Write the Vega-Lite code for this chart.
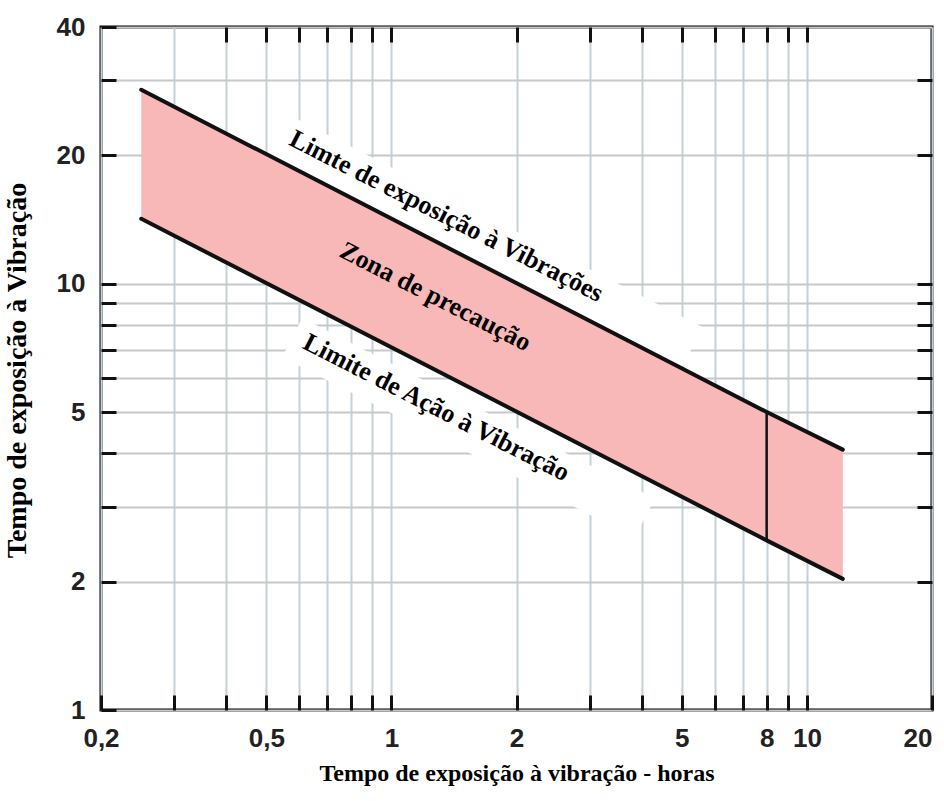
{
  "$schema": "https://vega.github.io/schema/vega-lite/v6.json",
  "width": 831,
  "height": 683,
  "autosize": "none",
  "padding": {"left": 101, "top": 27, "right": 12, "bottom": 91},
  "background": "white",
  "config": {
    "view": {"stroke": "#000", "strokeWidth": 3},
    "axis": {
      "domain": false,
      "ticks": true,
      "tickColor": "#111",
      "tickWidth": 3,
      "tickSize": -15,
      "gridWidth": 2,
      "labelFont": "Liberation Sans Narrow, Liberation Sans",
      "labelFontWeight": "bold",
      "labelFontSize": 26,
      "labelColor": "#222",
      "titleFont": "Liberation Serif",
      "titleFontWeight": "bold",
      "titleColor": "#000",
      "labelOverlap": false,
      "labelFlush": false
    }
  },
  "datasets": {
    "limites": [
      {"horas": 0.25, "lim_exposicao": 28.5, "lim_acao": 14.2},
      {"horas": 8, "lim_exposicao": 5, "lim_acao": 2.5},
      {"horas": 12.2, "lim_exposicao": 4.08, "lim_acao": 2.03}
    ],
    "caixas": [
      {"caixa": "exposicao", "horas": 0.54, "valor": 22.3},
      {"caixa": "exposicao", "horas": 5.31, "valor": 7.11},
      {"caixa": "acao", "horas": 0.577, "valor": 7.47},
      {"caixa": "acao", "horas": 4.07, "valor": 2.82}
    ],
    "rotulos": [
      {"horas": 1.356, "valor": 14.4, "texto": "Limte de exposição à Vibrações"},
      {"horas": 1.276, "valor": 9.32, "texto": "Zona de precaução"},
      {"horas": 1.283, "valor": 5.12, "texto": "Limite de Ação à Vibração"}
    ],
    "referencia": [{"horas": 8, "lim_exposicao": 5, "lim_acao": 2.5}]
  },
  "resolve": {"axis": {"x": "independent", "y": "independent"}},
  "layer": [
    {
      "data": {"name": "caixas"},
      "mark": {"type": "line", "color": "white", "strokeWidth": 44, "strokeCap": "butt"},
      "encoding": {
        "x": {
          "field": "horas", "type": "quantitative",
          "scale": {"type": "log", "domain": [0.2, 20], "nice": false, "zero": false},
          "axis": {
            "orient": "bottom",
            "values": [0.2, 0.3, 0.4, 0.5, 0.6, 0.7, 0.8, 0.9, 1, 2, 3, 4, 5, 6, 7, 8, 9, 10, 20],
            "grid": true,
            "gridColor": "#c3d1da",
            "labelExpr": "datum.value == 0.2 ? '0,2' : datum.value == 0.5 ? '0,5' : (datum.value == 1 || datum.value == 2 || datum.value == 5 || datum.value == 8 || datum.value == 10 || datum.value == 20) ? '' + datum.value : ''",
            "labelAlign": {"condition": {"test": "datum.value == 20", "value": "right"}, "value": "center"},
            "labelPadding": 30,
            "title": "Tempo de exposição à vibração - horas",
            "titleFontSize": 24,
            "titleY": 63,
            "titleBaseline": "middle"
          }
        },
        "y": {
          "field": "valor", "type": "quantitative",
          "scale": {"type": "log", "domain": [1, 40], "nice": false, "zero": false},
          "axis": {
            "orient": "left",
            "values": [1, 2, 3, 4, 5, 6, 7, 8, 9, 10, 20, 30, 40],
            "grid": true,
            "gridColor": "#c6c8ca",
            "labelExpr": "(datum.value == 1 || datum.value == 2 || datum.value == 5 || datum.value == 10 || datum.value == 20 || datum.value == 40) ? '' + datum.value : ''",
            "labelPadding": 31,
            "labelBaseline": "middle",
            "title": "Tempo de exposição à Vibração",
            "titleFontSize": 28,
            "titleAngle": -90,
            "titleX": -84,
            "titleY": 343,
            "titleBaseline": "middle",
            "titleAlign": "center"
          }
        },
        "detail": {"field": "caixa"}
      }
    },
    {
      "data": {"name": "limites"},
      "mark": {"type": "area", "color": "#f8b8b8", "opacity": 1},
      "encoding": {
        "x": {
          "field": "horas", "type": "quantitative",
          "scale": {"type": "log", "domain": [0.2, 20], "nice": false, "zero": false},
          "axis": {
            "orient": "top",
            "values": [0.4, 0.5, 0.6, 0.7, 0.8, 0.9, 1, 2, 3, 4, 5, 6, 7, 8, 9, 10],
            "grid": false,
            "labels": false,
            "title": null
          }
        },
        "y": {
          "field": "lim_exposicao", "type": "quantitative",
          "scale": {"type": "log", "domain": [1, 40], "nice": false, "zero": false},
          "axis": {
            "orient": "right",
            "values": [2, 3, 4, 5, 6, 7, 8, 9, 10, 20, 30],
            "grid": false,
            "labels": false,
            "title": null
          }
        },
        "y2": {"field": "lim_acao"}
      }
    },
    {
      "data": {"name": "limites"},
      "mark": {"type": "line", "color": "#111", "strokeWidth": 4, "strokeCap": "round"},
      "encoding": {
        "x": {"field": "horas", "type": "quantitative", "scale": {"type": "log", "domain": [0.2, 20], "nice": false, "zero": false}, "axis": null},
        "y": {"field": "lim_exposicao", "type": "quantitative", "scale": {"type": "log", "domain": [1, 40], "nice": false, "zero": false}, "axis": null}
      }
    },
    {
      "data": {"name": "limites"},
      "mark": {"type": "line", "color": "#111", "strokeWidth": 4, "strokeCap": "round"},
      "encoding": {
        "x": {"field": "horas", "type": "quantitative", "scale": {"type": "log", "domain": [0.2, 20], "nice": false, "zero": false}, "axis": null},
        "y": {"field": "lim_acao", "type": "quantitative", "scale": {"type": "log", "domain": [1, 40], "nice": false, "zero": false}, "axis": null}
      }
    },
    {
      "data": {"name": "referencia"},
      "mark": {"type": "rule", "color": "#111", "strokeWidth": 2.5},
      "encoding": {
        "x": {"field": "horas", "type": "quantitative", "scale": {"type": "log", "domain": [0.2, 20], "nice": false, "zero": false}, "axis": null},
        "y": {"field": "lim_acao", "type": "quantitative", "scale": {"type": "log", "domain": [1, 40], "nice": false, "zero": false}, "axis": null},
        "y2": {"field": "lim_exposicao"}
      }
    },
    {
      "data": {"name": "rotulos"},
      "mark": {"type": "text", "angle": 27, "font": "Liberation Serif", "fontWeight": "bold", "fontSize": 26, "color": "#000", "align": "center", "baseline": "middle"},
      "encoding": {
        "x": {"field": "horas", "type": "quantitative", "scale": {"type": "log", "domain": [0.2, 20], "nice": false, "zero": false}, "axis": null},
        "y": {"field": "valor", "type": "quantitative", "scale": {"type": "log", "domain": [1, 40], "nice": false, "zero": false}, "axis": null},
        "text": {"field": "texto"}
      }
    }
  ]
}
